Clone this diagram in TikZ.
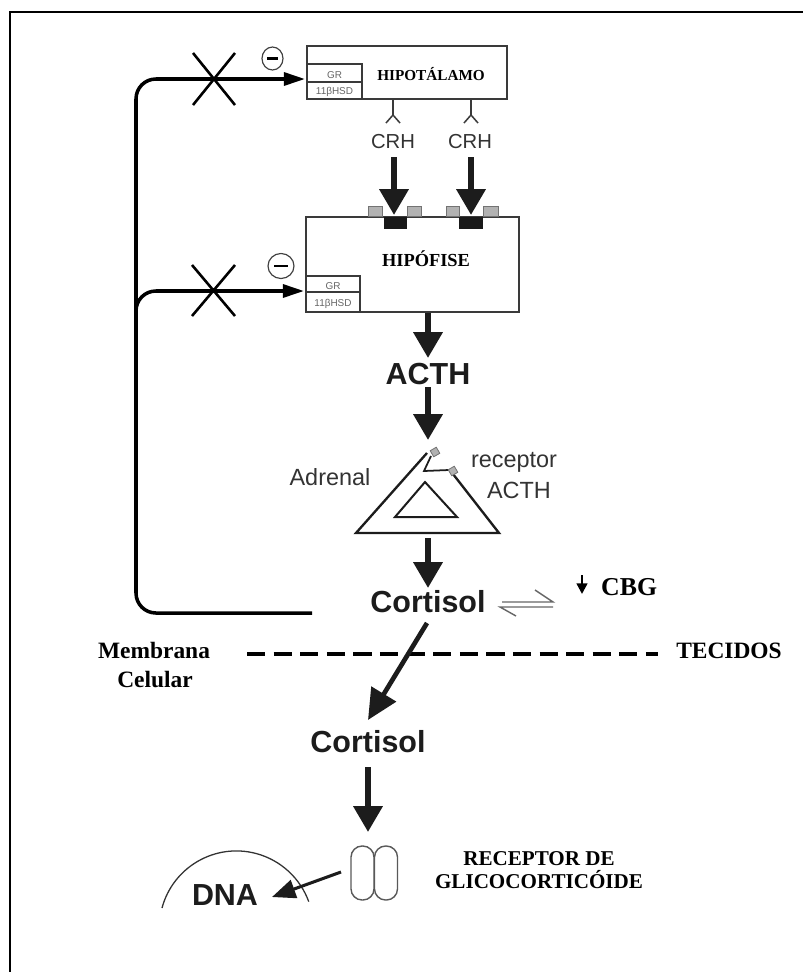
\documentclass[tikz,border=0pt]{standalone}
\usepackage{fontspec}
\setmainfont{Liberation Serif}
\setsansfont{Liberation Sans}
\usetikzlibrary{arrows.meta}
\definecolor{ink}{HTML}{1C1C1C}
\definecolor{labc}{HTML}{333333}
\definecolor{boxc}{HTML}{3A3A3A}
\begin{document}
\begin{tikzpicture}[x=0.03cm,y=-0.03cm,
  bigtxt/.style={font=\sffamily\bfseries\fontsize{26}{30}\selectfont,text=ink,inner sep=0pt,anchor=base},
  labtxt/.style={font=\sffamily\fontsize{20}{24}\selectfont,text=labc,inner sep=0pt,anchor=base},
  crhtxt/.style={font=\sffamily\fontsize{17.3}{20}\selectfont,text=labc,inner sep=0pt,anchor=base},
  grtxt/.style={font=\sffamily\fontsize{8.5}{10}\selectfont,text=black!60,inner sep=0pt,anchor=base},
  sertxt/.style={font=\bfseries\fontsize{20}{24}\selectfont,text=black,inner sep=0pt,anchor=base},
  bigarrow/.style={line width=5pt,draw=ink,-{Triangle[length=22pt,width=24pt]}},
  fbline/.style={line width=3pt,draw=black,rounded corners=17pt},
  fbtip/.style={-{Triangle[length=18pt,width=11pt]}},
  organ/.style={draw=boxc,line width=1.3pt,inner sep=0pt},
  cellbox/.style={draw=boxc,line width=1.1pt,inner sep=0pt,fill=white},
  crossline/.style={line width=2.2pt},
  graysq/.style={draw=black!55,fill=black!30,line width=0.7pt},
  blacksq/.style={fill=black!90},
  capsule/.style={draw=black!65,line width=1.2pt,rounded corners=9.5pt,minimum width=0.69cm,minimum height=1.62cm,inner sep=0pt},
]
\useasboundingbox (0,0) rectangle (804,972);

% frame
\draw[line width=2pt] (10,972) -- (10,12) -- (803,12);

% ---------- Hipotalamo ----------
\node[organ,minimum width=6cm,minimum height=1.59cm] (hyp) at (407,72.5) {};
\node[cellbox,minimum width=1.65cm,minimum height=0.54cm] (hypgr) at (334.5,73) {};
\node[cellbox,minimum width=1.65cm,minimum height=0.51cm] (hyphsd) at (334.5,90.5) {};
\node[grtxt] (hypgrt) at (334.5,78) {GR};
\node[grtxt] (hyphsdt) at (334.5,94) {11βHSD};
\node[sertxt,font=\bfseries\fontsize{13}{15}\selectfont] (hyptxt) at (431,80) {HIPOTÁLAMO};

% CRH forks
\coordinate (f1) at (393,115);
\coordinate (f2) at (471,115);
\draw[line width=1.3pt,draw=boxc] (393,99) -- (f1) (386,123) -- (f1) -- (400,123);
\draw[line width=1.3pt,draw=boxc] (471,99) -- (f2) (464,123) -- (f2) -- (478,123);
\node[crhtxt] (crh1) at (393,148) {CRH};
\node[crhtxt] (crh2) at (470,148) {CRH};

% ---------- Hipofise ----------
\node[organ,minimum width=6.39cm,minimum height=2.85cm] (pit) at (412.5,264.5) {};
\node[cellbox,minimum width=1.62cm,minimum height=0.48cm] (pitgr) at (333,284) {};
\node[cellbox,minimum width=1.62cm,minimum height=0.6cm] (pithsd) at (333,302) {};
\node[grtxt] (pitgrt) at (333,289) {GR};
\node[grtxt] (pithsdt) at (333,306.5) {11βHSD};
\node[sertxt,font=\bfseries\fontsize{15.7}{18}\selectfont] (pittxt) at (426,266) {HIPÓFISE};

% receptor squares on hipofise
\draw[graysq] (368,206) rectangle (382,216);
\draw[graysq] (407,206) rectangle (421,216);
\draw[graysq] (446,206) rectangle (459,216);
\draw[graysq] (483,206) rectangle (498,216);
\fill[blacksq] (384,217) rectangle (407,229);
\fill[blacksq] (459,217) rectangle (483,229);

% CRH arrows
\coordinate (c1a) at (394,157); \coordinate (c1b) at (394,215);
\coordinate (c2a) at (471,157); \coordinate (c2b) at (471,215);
\draw[bigarrow] (c1a) -- (c1b);
\draw[bigarrow] (c2a) -- (c2b);

% ---------- feedback ----------
\coordinate (fbend) at (312,613);
\coordinate (tip1) at (305,79);
\coordinate (tip2) at (304,291);
\draw[fbline,fbtip] (fbend) -- (136,613) -- (136,79) -- (tip1);
\draw[fbline,fbtip] (136,330) -- (136,291) -- (tip2);

% crosses
\draw[crossline] (193,53) -- (235,105) (235,53) -- (193,105);
\draw[crossline] (192,265) -- (235,316) (235,265) -- (192,316);

% minus circles
\draw[line width=1pt,draw=black!75] (272.5,58.5) ellipse [x radius=10.5, y radius=11.5];
\draw[line width=2.4pt] (267,58.5) -- (278,58.5);
\draw[line width=1pt,draw=black!75] (281,266) ellipse [x radius=13, y radius=12.5];
\draw[line width=2.4pt] (274,266) -- (288,266);

% ---------- ACTH ----------
\node[bigtxt] (acth) at (428,384) {ACTH};
\coordinate (p1) at (428,313); \coordinate (p2) at (428,358);
\draw[bigarrow] (p1) -- (p2);
\coordinate (a1) at (428,387); \coordinate (a2) at (428,440);
\draw[bigarrow] (a1) -- (a2);

% ---------- Adrenal ----------
\draw[line width=2pt,draw=ink,line join=miter] (427,453) -- (356,533) -- (499,533) -- (453,474);
\draw[line width=1.5pt,draw=ink] (431,456) -- (424,471) -- (449,470);
\draw[line width=1.7pt,draw=ink] (395,517) -- (457,517) -- (425,482) -- cycle;
\draw[graysq,rotate around={30:(435,452)}] (431.5,448.5) rectangle (438.5,455.5);
\draw[graysq,rotate around={30:(453,471)}] (449.5,467.5) rectangle (456.5,474.5);
\node[labtxt] (adrenal) at (330,485) {Adrenal};
\node[labtxt] (recep) at (514,467) {receptor};
\node[labtxt] (recacth) at (519,498) {ACTH};

% ---------- Cortisol ----------
\coordinate (d1) at (428,538); \coordinate (d2) at (428,588);
\draw[bigarrow] (d1) -- (d2);
\node[bigtxt] (cort1) at (428,612) {Cortisol};

% equilibrium harpoons
\draw[line width=1.2pt,draw=black!60] (502,602) -- (553,602) -- (535,590);
\draw[line width=1.2pt,draw=black!60] (553,607) -- (500,607) -- (516,616);

% CBG
\draw[line width=2pt,-{Triangle[length=9pt,width=9pt]}] (582,575) -- (582,594);
\node[sertxt,font=\bfseries\fontsize{22}{26}\selectfont,anchor=base west] (cbg) at (601,595) {CBG};

% membrane
\draw[line width=3.5pt,dash pattern=on 15.5pt off 7.2pt] (247,654) -- (658,654);
\node[sertxt] (memb) at (154,658) {Membrana};
\node[sertxt] (cel) at (155,687) {Celular};
\node[sertxt] (tec) at (729,658) {TECIDOS};

% diagonal arrow
\coordinate (g1) at (427,623); \coordinate (g2) at (368,720);
\draw[line width=4pt,draw=ink,-{Triangle[length=26pt,width=24pt]}] (g1) -- (g2);
\node[bigtxt] (cort2) at (368,752) {Cortisol};

\coordinate (h1) at (368,767); \coordinate (h2) at (368,832);
\draw[bigarrow] (h1) -- (h2);

% glucocorticoid receptor
\node[capsule] (gr1) at (362.5,873) {};
\node[capsule] (gr2) at (386,873) {};
\node[sertxt,font=\bfseries\fontsize{18}{21}\selectfont] (rec1) at (539,865) {RECEPTOR DE};
\node[sertxt,font=\bfseries\fontsize{18}{21}\selectfont] (rec2) at (539,888) {GLICOCORTICÓIDE};

% nucleus + DNA
\draw[line width=1.1pt,draw=black!80] (162,908) arc[start angle=195, end angle=340, radius=77];
\node[bigtxt] (dna) at (225,905) {DNA};
\coordinate (k1) at (341,872); \coordinate (k2) at (272,897);
\draw[line width=2.6pt,draw=ink,-{Triangle[length=20pt,width=16pt]}] (k1) -- (k2);
\end{tikzpicture}
\end{document}
